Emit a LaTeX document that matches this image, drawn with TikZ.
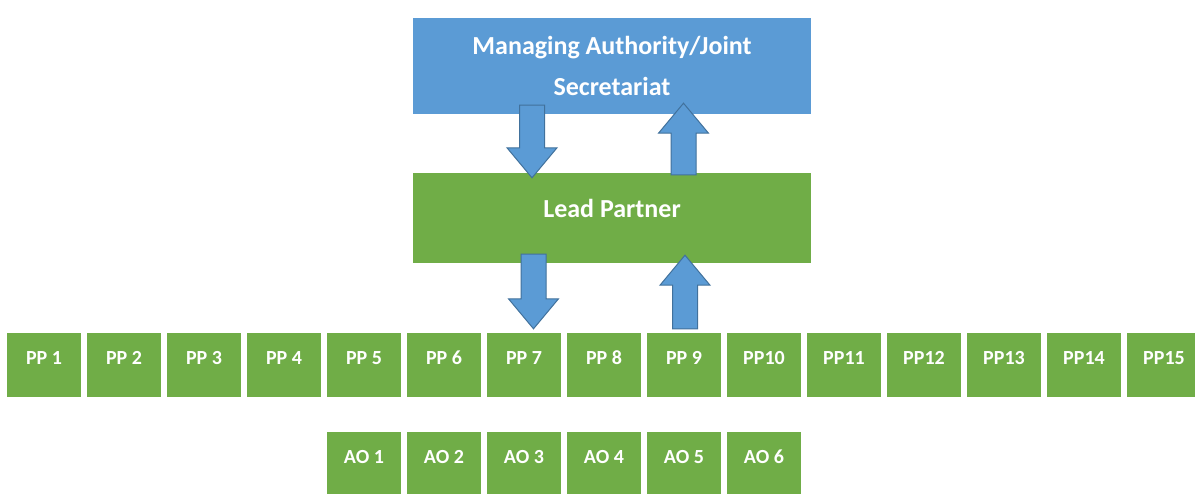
\documentclass[tikz,border=0pt]{standalone}
\usepackage{fontspec}
\setmainfont{Carlito}
\usepackage{tikz}
\usetikzlibrary{calc}
\usetikzlibrary{positioning}
\definecolor{boxgreen}{HTML}{70AD47}
\definecolor{boxblue}{HTML}{5B9BD5}
\definecolor{arrowline}{HTML}{41719C}
\tikzset{blockarrow/.style={fill=boxblue, draw=arrowline, line width=1pt, line join=miter}}
% fat block arrow from tail (#1) to tip (#2), vertical
\newcommand{\blockarrow}[2]{%
  \draw[blockarrow] let \p1=(#1), \p2=(#2), \n1={sign(\y2-\y1)*30} in
    (\x1-12.5pt,\y1) -- (\x1+12.5pt,\y1) -- (\x1+12.5pt,\y2-\n1) --
    (\x1+25pt,\y2-\n1) -- (\x1,\y2) -- (\x1-25pt,\y2-\n1) --
    (\x1-12.5pt,\y2-\n1) -- cycle;}

\begin{document}
\begin{tikzpicture}[x=1pt, y=1pt,
      node distance=80pt,
      on grid,
      box/.style={fill=boxgreen, text=white, inner sep=0pt,
        text height=10pt, text depth=10pt,
        font=\bfseries\fontsize{20}{24}\selectfont},
      partner/.style={box, minimum width=74pt, minimum height=64pt},
      big/.style={box, minimum width=398pt,
        font=\bfseries\fontsize{26}{41}\selectfont}]

    \useasboundingbox (0,0) rectangle (1195,-494);

    \node[big, fill=boxblue, minimum height=96pt, align=center,
        text height=, text depth=]
      (Authority) at (612,-66) {Managing Authority/Joint\\Secretariat};
    \node[big, minimum height=90pt]
      (Lead) [below=152pt of Authority] {Lead Partner};

    \node[partner]
      (PP1) at (44,-365) {PP 1};
    \node[partner]
      (PP2) [right=of PP1] {PP 2};
    \node[partner]
      (PP3) [right=of PP2] {PP 3};
    \node[partner]
      (PP4) [right=of PP3] {PP 4};
    \node[partner]
      (PP5) [right=of PP4] {PP 5};
    \node[partner]
      (PP6) [right=of PP5] {PP 6};
    \node[partner]
      (PP7) [right=of PP6] {PP 7};
    \node[partner]
      (PP8) [right=of PP7] {PP 8};
    \node[partner]
      (PP9) [right=of PP8] {PP 9};
    \node[partner]
      (PP10) [right=of PP9] {PP10};
    \node[partner]
      (PP11) [right=of PP10] {PP11};
    \node[partner]
      (PP12) [right=of PP11] {PP12};
    \node[partner]
      (PP13) [right=of PP12] {PP13};
    \node[partner]
      (PP14) [right=of PP13] {PP14};
    \node[partner]
      (PP15) [right=of PP14] {PP15};

    \node[partner]
      (AO1) [below=99pt of PP5] {AO 1};
    \node[partner]
      (AO2) [right=of AO1] {AO 2};
    \node[partner]
      (AO3) [right=of AO2] {AO 3};
    \node[partner]
      (AO4) [right=of AO3] {AO 4};
    \node[partner]
      (AO5) [right=of AO4] {AO 5};
    \node[partner]
      (AO6) [right=of AO5] {AO 6};

    % arrows between the levels
    \coordinate (AuthorityOut) at ([xshift=-80pt, yshift=9pt]Authority.south);
    \coordinate (LeadIn) at ([xshift=-80pt, yshift=-5pt]Lead.north);
    \coordinate (LeadOut) at ([xshift=71.5pt, yshift=-2pt]Lead.north);
    \coordinate (AuthorityIn) at ([xshift=71.5pt, yshift=11pt]Authority.south);
    \coordinate (LeadDown) at ([xshift=-78.5pt, yshift=9pt]Lead.south);
    \coordinate (PartnerIn) at ([yshift=4pt]PP7.north -| LeadDown);
    \coordinate (LeadUp) at ([xshift=73pt, yshift=8pt]Lead.south);
    \coordinate (PartnerOut) at ([yshift=4pt]PP9.north -| LeadUp);

    \blockarrow{AuthorityOut}{LeadIn}
    \blockarrow{LeadOut}{AuthorityIn}
    \blockarrow{LeadDown}{PartnerIn}
    \blockarrow{PartnerOut}{LeadUp}

  \end{tikzpicture}
\end{document}
